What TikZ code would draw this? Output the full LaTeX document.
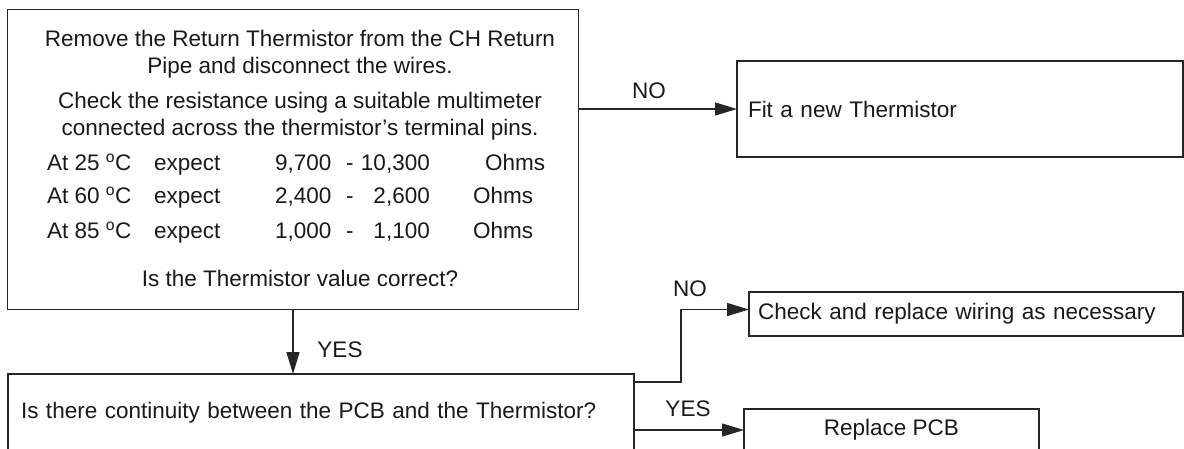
\documentclass[tikz,border=0pt]{standalone}
\usepackage{fontspec}
\setmainfont{Liberation Sans}
\usepackage{tikz}
\usetikzlibrary{calc,arrows.meta}
\usepackage{xcolor}

\tikzset{
  txt/.style={inner sep=0pt, text=black!90, font=\fontsize{22.5}{27}\selectfont},
  box/.style={draw=black!85, line width=1.4pt, inner sep=0pt, outer sep=0pt, txt},
  flow/.style={draw=black!85, line width=1.3pt, -{Triangle[length=22pt,width=13pt]}}
}

\begin{document}
\begin{tikzpicture}[x=1pt, y=-1pt]
  \useasboundingbox (0,0) rectangle (1184,448);

  % Thermistor check box
  \node[box, anchor=north west, minimum width=571, minimum height=300] (check) at (7.5,9.5) {};
  \node[txt, anchor=base] (l1) at (300,46) {Remove the Return Thermistor from the CH Return};
  \node[txt, anchor=base] (l2) at (300,73) {Pipe and disconnect the wires.};
  \node[txt, anchor=base] (l3) at (300,108) {Check the resistance using a suitable multimeter};
  \node[txt, anchor=base] (l4) at (300,135) {connected across the thermistor’s terminal pins.};
  \foreach \r/\y/\t/\lo/\hi/\ox in {1/170/25/{9,700}/{10,300}/485,
                                    2/203/60/{2,400}/{2,600}/473,
                                    3/238/85/{1,000}/{1,100}/473} {
    \node[txt, anchor=base west] (at\r) at (47,\y) {At \t\ \textsuperscript{o}C};
    \node[txt, anchor=base west] (ex\r) at (154,\y) {expect};
    \node[txt, anchor=base west] (lo\r) at (275,\y) {\lo};
    \node[txt, anchor=base west] (da\r) at (346,\y) {-};
    \node[txt, anchor=base east] (hi\r) at (430,\y) {\hi};
    \node[txt, anchor=base west] (oh\r) at (\ox,\y) {Ohms};
  }
  \node[txt, anchor=base] (ask) at (300,286) {Is the Thermistor value correct?};

  % outcome boxes
  \node[box, anchor=north west, minimum width=446, minimum height=96,
        text width=424, inner xsep=11, align=left] (fit) at (737,61) {Fit a new Thermistor};
  \node[box, anchor=north west, minimum width=626, minimum height=78,
        text width=600, inner xsep=13, align=left] (cont) at (8,374)
        {Is there continuity between the PCB and the Thermistor?};
  \node[box, anchor=north west, minimum width=434, minimum height=44,
        text width=416, inner xsep=9, align=left] (wire) at (749,292)
        {Check and replace wiring as necessary};
  \node[box, anchor=north west, minimum width=295, minimum height=42] (pcb) at (744,409) {Replace PCB};

  % connectors
  \coordinate (knee) at (681,346);
  \draw[flow] (check.east |- fit.west) -- (fit.west);
  \draw[flow] (check.south) -- (check.south |- cont.north);
  \draw[flow] ([yshift=-8pt]cont.north east) -| (knee) |- ([yshift=4.5pt]wire.west);
  \draw[flow] (cont.east |- pcb.west) -- (pcb.west);

  \node[txt] (no1) at (649,91) {NO};
  \node[txt] (yes1) at (340,350) {YES};
  \node[txt] (no2) at (690,289) {NO};
  \node[txt] (yes2) at (688,409) {YES};

\end{tikzpicture}
\end{document}
